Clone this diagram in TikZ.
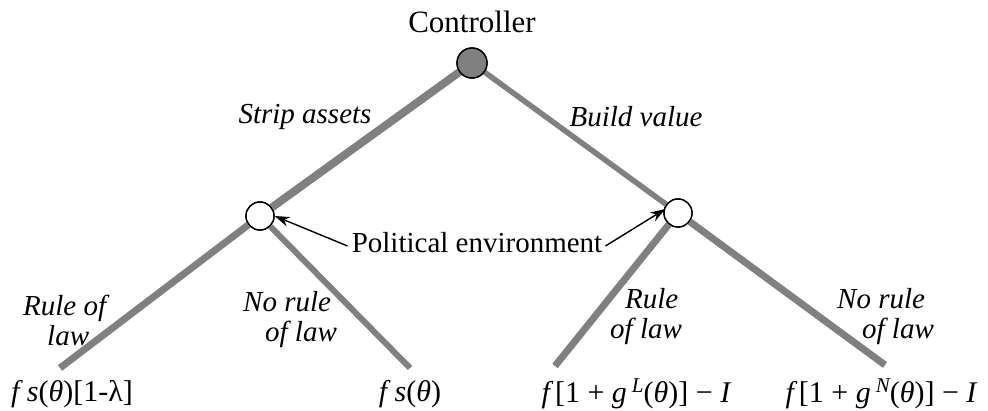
\documentclass[tikz,border=0pt]{standalone}
\usepackage{fontspec}
\newfontfamily\tms{Liberation Serif}
\usetikzlibrary{arrows.meta}
\newcommand{\vv}[1]{{\itshape #1}}
\begin{document}
\begin{tikzpicture}[x=1pt,y=-1pt,
  branch/.style={draw=black!50, line width=6.5pt},
  chance/.style={circle, draw=black, line width=1.4pt, fill=white, minimum size=28pt, inner sep=0pt},
  dec/.style={circle, draw=black, line width=1.4pt, fill=black!50, minimum size=30pt, inner sep=0pt},
  lab/.style={font=\tms\fontsize{29}{30}\selectfont\itshape, align=left, inner sep=0pt, anchor=west},
  txt/.style={font=\tms\fontsize{29}{30}\selectfont, inner sep=0pt},
  pay/.style={font=\tms\fontsize{30}{32}\selectfont, inner sep=0pt},
  pointer/.style={draw=black, line width=1.4pt, -{Stealth[length=15pt,width=10pt]}}]
\useasboundingbox (0,0) rectangle (988,411);
% nodes
\node[dec] (r) at (472,63) {};
\node[chance] (l) at (260,216) {};
\node[chance] (rt) at (678,213) {};
\coordinate (ll) at (60,368);
\coordinate (lr) at (410,368);
\coordinate (rl) at (555,366);
\coordinate (rr) at (885,365);
% branches
\draw[branch, line width=8pt] (r) -- (l);
\draw[branch, line width=5.5pt] (r) -- (rt);
\draw[branch, line width=7pt] (l) -- (ll);
\draw[branch, line width=6pt] (l) -- (lr);
\draw[branch, line width=7pt] (rt) -- (rl);
\draw[branch, line width=7pt] (rt) -- (rr);
\node[dec] at (r) {};
\node[chance] at (l) {};
\node[chance] at (rt) {};
% texts
\node[txt, font=\tms\fontsize{31}{32}\selectfont] (ctrl) at (472,22) {Controller};
\node[lab, anchor=center] (sa) at (305,117) {Strip assets};
\node[lab, anchor=center] (bv) at (636,117) {Build value};
\node[txt] (pe) at (477,243) {Political environment};
\draw[pointer] ([xshift=-4pt,yshift=-3pt]pe.west) -- (l.east);
\draw[pointer] ([xshift=3pt,yshift=-3pt]pe.east) -- ([xshift=2pt,yshift=4pt]rt.west);
\node[lab] (l1) at (23,320) {Rule of\\\hspace*{24pt}law};
\node[lab] (l2) at (243,320) {No rule\\\hspace*{22pt}of law};
\node[lab] (l3) at (610,317) {\hspace*{15pt}Rule\\of law};
\node[lab] (l4) at (837,317) {No rule\\\hspace*{25pt}of law};
\node[pay] (p1) at (72,394) {\vv{f s}(\vv{θ})[1-λ]};
\node[pay] (p2) at (410,394) {\vv{f s}(\vv{θ})};
\node[pay] (p3) at (636,394) {\vv{f\,}[1 + \vv{g}\,\raisebox{10pt}{\fontsize{21}{22}\selectfont\vv{L}}(\vv{θ})] − \vv{I}};
\node[pay] (p4) at (881,394) {\vv{f\,}[1 + \vv{g}\,\raisebox{10pt}{\fontsize{21}{22}\selectfont\vv{N}}(\vv{θ})] − \vv{I}};
\end{tikzpicture}
\end{document}
